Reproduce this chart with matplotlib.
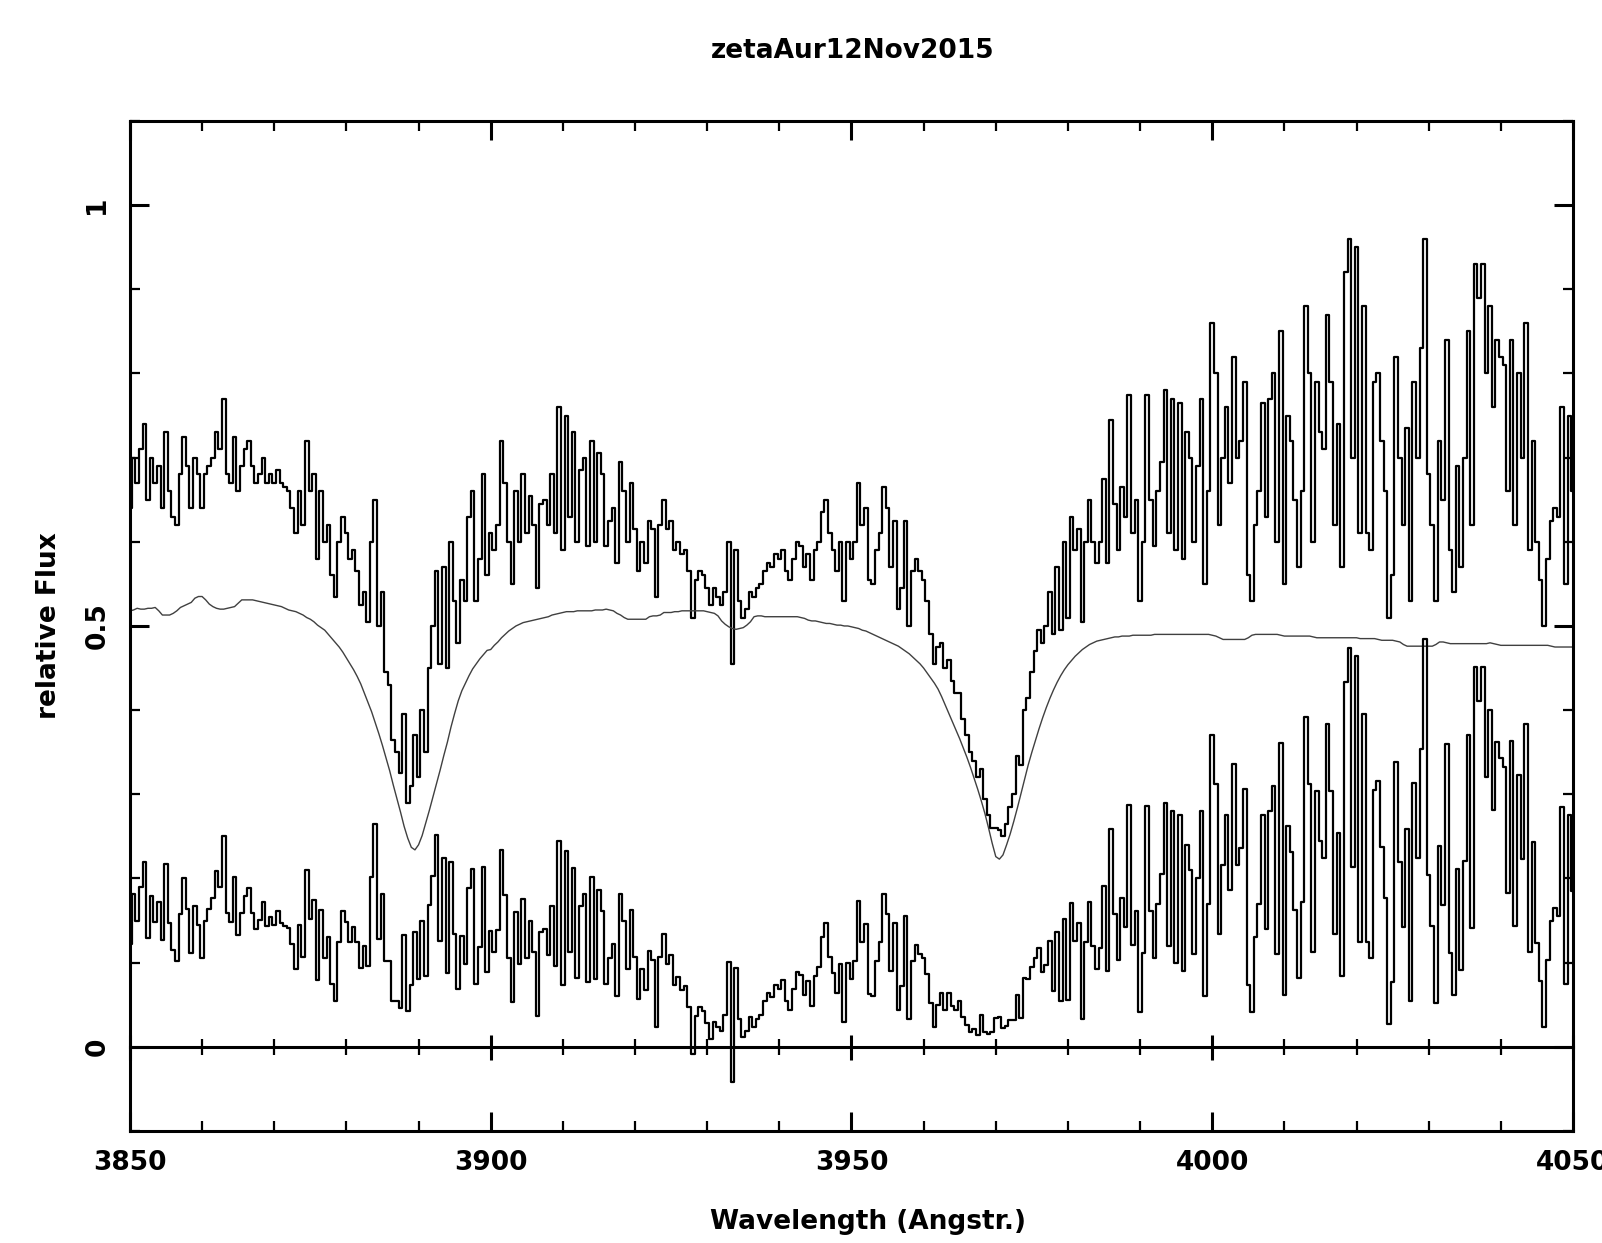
import numpy as np
import matplotlib
matplotlib.use("Agg")
import matplotlib.pyplot as plt
from matplotlib.ticker import MultipleLocator, FixedLocator

# spectrum, 0.5 A sampling from 3850 A
title = "zetaAur12Nov2015"
wl_start = 3850.0
wl_step = 0.5

flux_obs = [
    0.64, 0.70, 0.67, 0.71, 0.74, 0.65, 0.70, 0.67, 0.69, 0.64,
    0.73, 0.66, 0.63, 0.62, 0.68, 0.725, 0.69, 0.64, 0.70, 0.68,
    0.64, 0.68, 0.69, 0.70, 0.73, 0.71, 0.77, 0.68, 0.67, 0.725,
    0.66, 0.69, 0.71, 0.72, 0.69, 0.67, 0.68, 0.70, 0.67, 0.68,
    0.67, 0.685, 0.67, 0.665, 0.66, 0.64, 0.61, 0.66, 0.62, 0.72,
    0.66,
    0.68, 0.58, 0.66, 0.60, 0.62, 0.56, 0.535, 0.60, 0.63, 0.61,
    0.58, 0.59, 0.565, 0.525, 0.54, 0.505, 0.60, 0.65, 0.50, 0.54,
    0.445, 0.43, 0.365, 0.35, 0.325, 0.395, 0.29, 0.31, 0.37, 0.32,
    0.40, 0.35, 0.45, 0.50, 0.565, 0.455, 0.57, 0.45, 0.60, 0.53,
    0.48, 0.555, 0.53, 0.63, 0.66, 0.53, 0.58, 0.68, 0.56, 0.61,
    0.59, 0.62, 0.72, 0.67, 0.60, 0.55, 0.66, 0.60, 0.68, 0.61,
    0.655, 0.62, 0.545, 0.645, 0.65, 0.62, 0.68, 0.61, 0.76, 0.59,
    0.75, 0.63, 0.73, 0.60, 0.685, 0.70, 0.595, 0.72, 0.60, 0.705,
    0.68, 0.595, 0.625, 0.64, 0.575, 0.695, 0.66, 0.60, 0.67, 0.615,
    0.565, 0.60, 0.575, 0.625, 0.615, 0.535, 0.62, 0.65, 0.615, 0.625,
    0.59, 0.60, 0.585, 0.59, 0.565, 0.51, 0.555, 0.565, 0.56, 0.545,
    0.525, 0.545, 0.535, 0.525, 0.54, 0.60, 0.455, 0.59, 0.53, 0.51,
    0.52, 0.54, 0.535, 0.545, 0.55, 0.565, 0.575, 0.57, 0.585, 0.58,
    0.59, 0.565, 0.555, 0.58, 0.60, 0.595, 0.57, 0.585, 0.555, 0.59,
    0.60, 0.635, 0.65, 0.61, 0.59, 0.565, 0.60, 0.53, 0.60, 0.58,
    0.60, 0.67, 0.62, 0.64, 0.555, 0.55, 0.59, 0.61, 0.665, 0.64,
    0.57, 0.625, 0.52, 0.545, 0.625, 0.50, 0.565, 0.58, 0.565, 0.555,
    0.53, 0.49, 0.455, 0.475, 0.48, 0.45, 0.46, 0.435, 0.42, 0.42,
    0.39, 0.37, 0.35, 0.34, 0.32, 0.33, 0.295, 0.275, 0.26, 0.26,
    0.258, 0.25, 0.265, 0.285, 0.30, 0.345, 0.335, 0.40, 0.415, 0.445,
    0.47, 0.495, 0.48, 0.50, 0.54, 0.49, 0.57, 0.495, 0.60, 0.51,
    0.63, 0.59, 0.615, 0.505, 0.60, 0.65, 0.60, 0.575, 0.60, 0.675,
    0.575, 0.745, 0.645, 0.59, 0.665, 0.63, 0.775, 0.61, 0.65, 0.53,
    0.60, 0.775, 0.65, 0.595, 0.66, 0.695, 0.78, 0.61, 0.77, 0.59,
    0.765, 0.58, 0.73, 0.70, 0.60, 0.69, 0.77, 0.55, 0.66, 0.86,
    0.80, 0.62, 0.70, 0.76, 0.67, 0.82, 0.70, 0.72, 0.79, 0.56,
    0.53, 0.62, 0.66, 0.765, 0.63, 0.77, 0.80, 0.60, 0.85, 0.55,
    0.75, 0.72, 0.65, 0.57, 0.66, 0.88, 0.80, 0.60, 0.79, 0.73,
    0.71, 0.87, 0.79, 0.62, 0.74, 0.57, 0.92, 0.96, 0.70, 0.95,
    0.61, 0.88, 0.61, 0.59, 0.79, 0.80, 0.72, 0.66, 0.51, 0.56,
    0.82, 0.70, 0.62, 0.735, 0.53, 0.79, 0.70, 0.83, 0.96, 0.68,
    0.62, 0.53, 0.72, 0.65, 0.84, 0.59, 0.54, 0.69, 0.57, 0.70,
    0.85, 0.62, 0.93, 0.89, 0.93, 0.80, 0.88, 0.76, 0.84, 0.82,
    0.81, 0.66, 0.84, 0.62, 0.80, 0.70, 0.86, 0.59, 0.72, 0.60,
    0.555, 0.50, 0.58, 0.625, 0.64, 0.63, 0.76, 0.55, 0.75, 0.66,
]

# synthetic (model) spectrum, same sampling
flux_model = [
    0.518, 0.519, 0.521, 0.520, 0.520, 0.521, 0.521, 0.522, 0.518, 0.513,
    0.513, 0.513, 0.515, 0.518, 0.522, 0.524, 0.526, 0.528, 0.533, 0.535,
    0.535, 0.531, 0.526, 0.523, 0.521, 0.520, 0.520, 0.521, 0.522, 0.523,
    0.527, 0.531, 0.531, 0.531, 0.531, 0.530, 0.529, 0.528, 0.527, 0.526,
    0.525, 0.524, 0.523, 0.521, 0.519, 0.518, 0.517, 0.515, 0.513, 0.510,
    0.508,
    0.505, 0.501, 0.498, 0.495, 0.490, 0.485, 0.480, 0.475, 0.469, 0.462,
    0.455, 0.448, 0.440, 0.431, 0.420, 0.409, 0.398, 0.385, 0.372, 0.358,
    0.343, 0.328, 0.311, 0.295, 0.279, 0.262, 0.248, 0.237, 0.234, 0.240,
    0.251, 0.266, 0.281, 0.297, 0.313, 0.329, 0.346, 0.362, 0.380, 0.396,
    0.411, 0.423, 0.432, 0.441, 0.449, 0.455, 0.461, 0.466, 0.471, 0.472,
    0.477, 0.481, 0.486, 0.490, 0.494, 0.497, 0.500, 0.502, 0.504, 0.505,
    0.506, 0.507, 0.508, 0.509, 0.510, 0.511, 0.513, 0.514, 0.515, 0.516,
    0.517, 0.517, 0.517, 0.518, 0.518, 0.518, 0.518, 0.518, 0.519, 0.519,
    0.519, 0.520, 0.519, 0.518, 0.515, 0.513, 0.510, 0.508, 0.508, 0.508,
    0.508, 0.508, 0.508, 0.511, 0.512, 0.512, 0.513, 0.516, 0.516, 0.516,
    0.517, 0.517, 0.518, 0.518, 0.518, 0.518, 0.518, 0.518, 0.518, 0.517,
    0.516, 0.515, 0.512, 0.506, 0.502, 0.499, 0.497, 0.496, 0.497, 0.498,
    0.501, 0.505, 0.511, 0.512, 0.512, 0.511, 0.511, 0.511, 0.511, 0.511,
    0.511, 0.511, 0.511, 0.511, 0.511, 0.510, 0.509, 0.507, 0.506, 0.506,
    0.505, 0.504, 0.503, 0.503, 0.502, 0.501, 0.501, 0.500, 0.500, 0.499,
    0.498, 0.497, 0.495, 0.494, 0.492, 0.490, 0.488, 0.486, 0.484, 0.482,
    0.480, 0.478, 0.476, 0.473, 0.470, 0.467, 0.463, 0.459, 0.455, 0.450,
    0.444, 0.438, 0.432, 0.425, 0.416, 0.406, 0.396, 0.386, 0.376, 0.366,
    0.355, 0.344, 0.332, 0.319, 0.306, 0.292, 0.277, 0.260, 0.242, 0.226,
    0.223, 0.228, 0.240, 0.253, 0.268, 0.284, 0.301, 0.318, 0.335, 0.350,
    0.364, 0.378, 0.391, 0.403, 0.414, 0.424, 0.433, 0.441, 0.448, 0.454,
    0.459, 0.464, 0.468, 0.472, 0.475, 0.478, 0.480, 0.482, 0.483, 0.484,
    0.485, 0.486, 0.487, 0.487, 0.488, 0.488, 0.488, 0.489, 0.489, 0.489,
    0.489, 0.489, 0.489, 0.490, 0.490, 0.490, 0.490, 0.490, 0.490, 0.490,
    0.490, 0.490, 0.490, 0.490, 0.490, 0.490, 0.490, 0.490, 0.490, 0.489,
    0.488, 0.486, 0.484, 0.484, 0.484, 0.484, 0.484, 0.484, 0.484, 0.486,
    0.489, 0.490, 0.490, 0.490, 0.490, 0.490, 0.490, 0.490, 0.489, 0.488,
    0.488, 0.488, 0.488, 0.488, 0.488, 0.488, 0.488, 0.487, 0.486, 0.486,
    0.486, 0.486, 0.486, 0.486, 0.486, 0.486, 0.486, 0.486, 0.486, 0.486,
    0.485, 0.485, 0.485, 0.485, 0.485, 0.484, 0.483, 0.483, 0.483, 0.483,
    0.482, 0.481, 0.478, 0.476, 0.476, 0.476, 0.476, 0.476, 0.476, 0.476,
    0.476, 0.478, 0.481, 0.481, 0.480, 0.479, 0.479, 0.479, 0.479, 0.479,
    0.479, 0.479, 0.479, 0.479, 0.479, 0.479, 0.480, 0.479, 0.478, 0.477,
    0.477, 0.477, 0.477, 0.477, 0.477, 0.477, 0.477, 0.477, 0.477, 0.477,
    0.477, 0.477, 0.477, 0.476, 0.475, 0.475, 0.475, 0.475, 0.475, 0.475,
]

y_ticks = [0, 0.5, 1]
y_ticklabels = ["0", "0.5", "1"]

obs = np.array(flux_obs)
model = np.array(flux_model)
wl = wl_start + wl_step * np.arange(len(obs))
resid = obs - model  # lower curve = observed minus model

plt.rcParams["font.weight"] = "bold"

fig = plt.figure(figsize=(16.02, 12.43), dpi=100)
ax = fig.add_axes([0.0811, 0.0901, 0.9008, 0.8126])

ax.plot(wl, obs, color="black", lw=1.6, drawstyle="steps-mid")
ax.plot(wl, model, color="0.25", lw=1.0)
ax.plot(wl, resid, color="black", lw=1.6, drawstyle="steps-mid")

ax.set_xlim(3850, 4050)
ax.set_ylim(-0.1, 1.1)

ax.xaxis.set_major_locator(MultipleLocator(50))
ax.xaxis.set_minor_locator(MultipleLocator(10))
ax.yaxis.set_major_locator(FixedLocator(y_ticks))
ax.yaxis.set_minor_locator(MultipleLocator(0.1))
ax.set_yticklabels(y_ticklabels, rotation=90, va="center")

ax.tick_params(which="both", direction="in", top=True, right=True, labelsize=19)
ax.tick_params(which="major", length=14, width=2.2, pad=14)
ax.tick_params(which="minor", length=7.5, width=1.6)
for s in ax.spines.values():
    s.set_linewidth(2.2)

# zero line with ticks crossing it
ylo, yhi = ax.get_ylim()
zero = ax.secondary_xaxis((0 - ylo) / (yhi - ylo))
zero.xaxis.set_major_locator(MultipleLocator(50))
zero.xaxis.set_minor_locator(MultipleLocator(10))
zero.tick_params(which="both", direction="inout", labelbottom=False, labeltop=False)
zero.tick_params(which="major", length=18, width=2.2)
zero.tick_params(which="minor", length=12, width=1.6)
for s in zero.spines.values():
    s.set_linewidth(2.2)

fig.text(0.532, 1 - 51 / 1243, title, ha="center", va="center", fontsize=19)
fig.text(0.542, 1 - 1222 / 1243, "Wavelength (Angstr.)", ha="center", va="center", fontsize=19)
fig.text(0.0306, 0.4966, "relative Flux", rotation=90, ha="center", va="center", fontsize=19)

fig.savefig("out.png", dpi=100)
